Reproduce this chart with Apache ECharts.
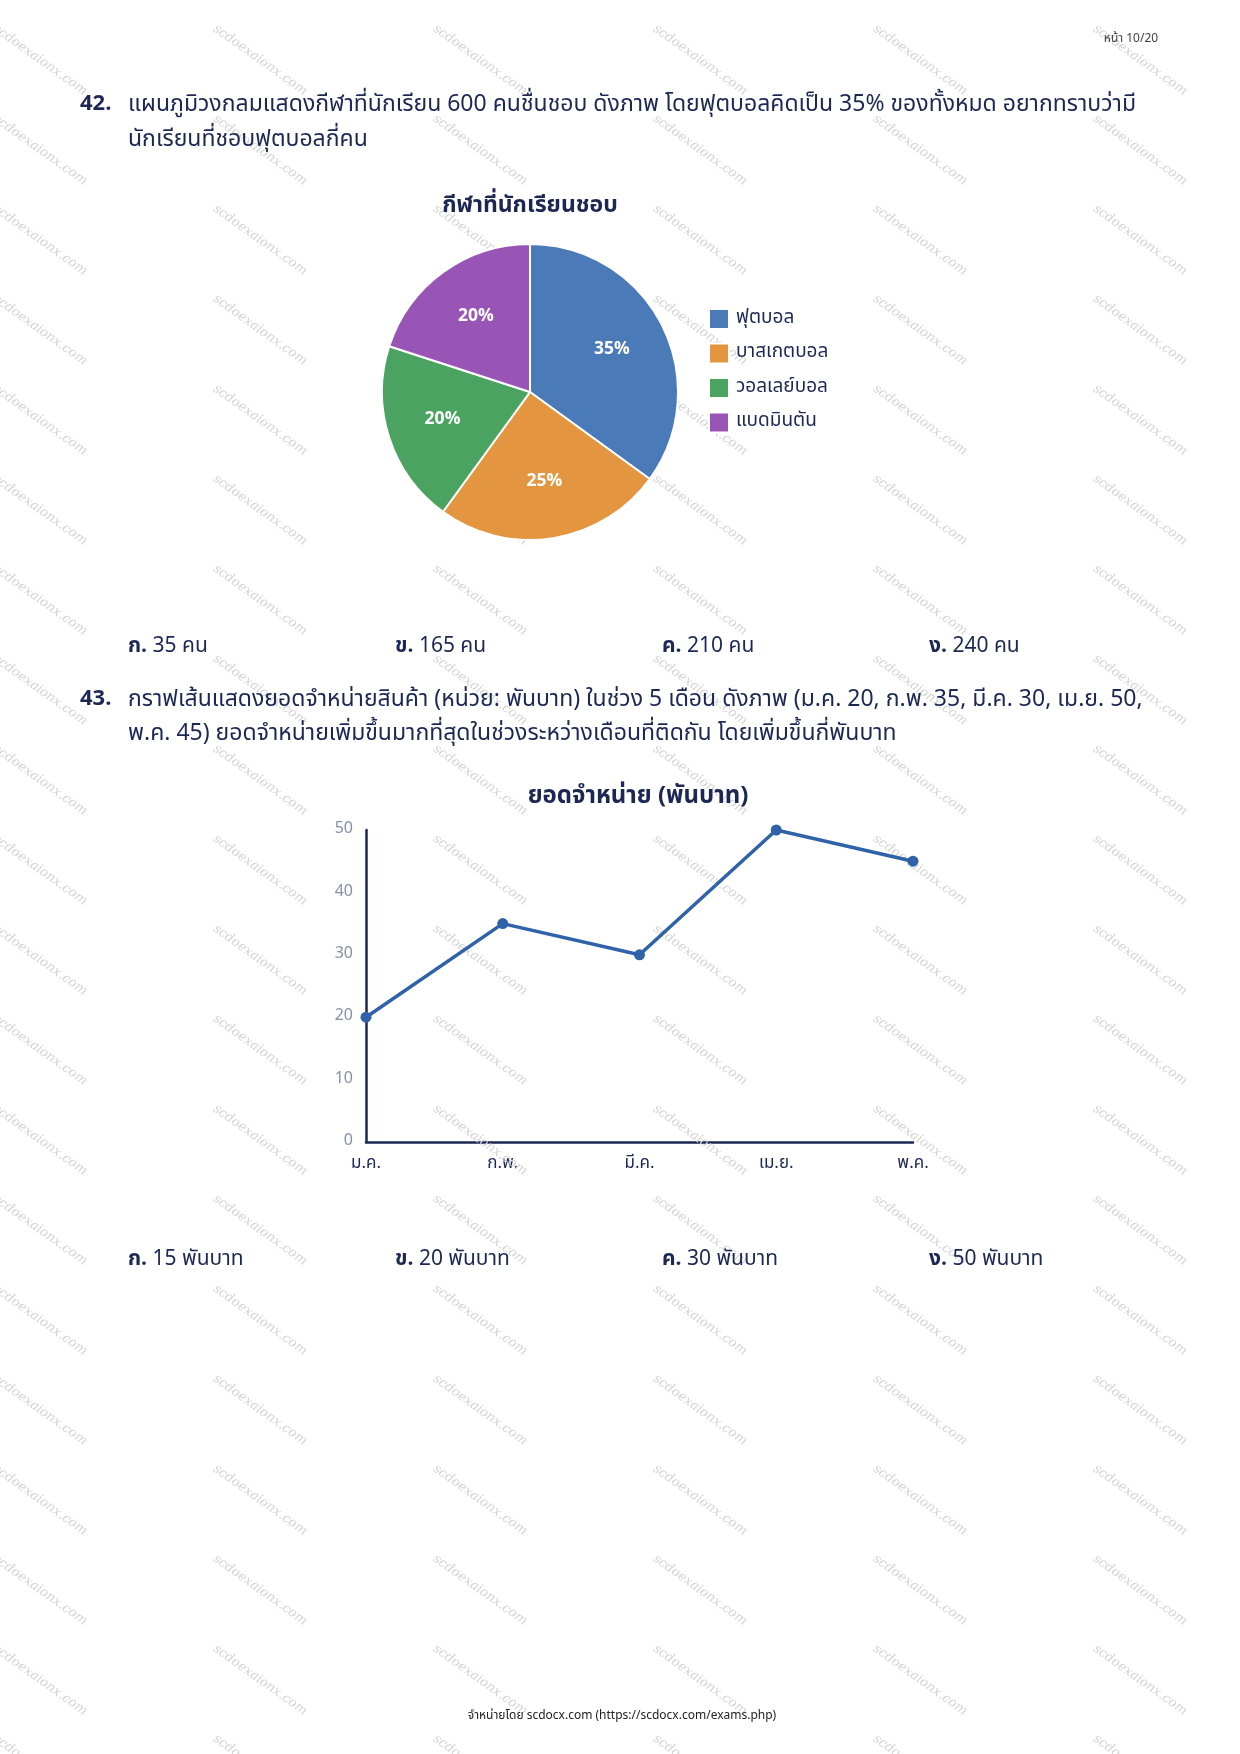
<!DOCTYPE html>
<html>
<head>
<meta charset="utf-8">
<script src="https://cdn.jsdelivr.net/npm/echarts@6/dist/echarts.min.js"></script>
<style>
  html, body { margin: 0; padding: 0; background: #fff; }
  #page { width: 1240px; height: 1754px; }
</style>
</head>
<body>
<div id="page"></div>
<script>
// ข้อมูลแผนภูมิวงกลม
var sports = ['ฟุตบอล', 'บาสเกตบอล', 'วอลเลย์บอล', 'แบดมินตัน'];
var sportShares = [35, 25, 20, 20];
var sportColors = ['#4a7ab8', '#e3963f', '#4aa360', '#9955b5'];

// ข้อมูลกราฟเส้น
var months = ['ม.ค.', 'ก.พ.', 'มี.ค.', 'เม.ย.', 'พ.ค.'];
var sales = [20, 35, 30, 50, 45];

var navy = '#1c2754';
var thai = '"Noto Sans Thai", "Noto Sans", sans-serif';

var myChart = echarts.init(document.getElementById('page'));

function txt(s, x, y, size, weight, color, align) {
    return {
        type: 'text', z: 10,
        style: {
            text: s, x: x, y: y,
            fontSize: size, fontWeight: weight || 'normal',
            fontFamily: thai, fill: color || navy,
            align: align || 'left', verticalAlign: 'middle'
        }
    };
}

function choice(q, x, y) {
    return {
        type: 'text', z: 10,
        style: {
            x: x, y: y, verticalAlign: 'middle',
            text: '{b|' + q[0] + '} ' + q[1],
            fontSize: 21, fontFamily: thai, fill: navy,
            rich: { b: { fontWeight: 'bold', fontSize: 21, fontFamily: thai, fill: navy } }
        }
    };
}

var graphics = [];

// ลายน้ำ
for (var r = 0; r < 20; r++) {
    for (var c = 0; c < 6; c++) {
        graphics.push({
            type: 'text', z: 1,
            x: 40 + c * 220, y: 60 + r * 90,
            rotation: -0.62,
            style: {
                text: 'scdoexaionx.com', x: 0, y: 0,
                fontSize: 13, fontStyle: 'italic', fontFamily: '"DejaVu Serif", serif',
                fill: '#d4d4d4', align: 'center', verticalAlign: 'middle'
            }
        });
    }
}

graphics.push(txt('หน้า 10/20', 1131, 40, 12, 'normal', '#444', 'center'));

graphics.push(txt('42.', 80, 106, 22, 'bold'));
graphics.push(txt('แผนภูมิวงกลมแสดงกีฬาที่นักเรียน 600 คนชื่นชอบ ดังภาพ โดยฟุตบอลคิดเป็น 35% ของทั้งหมด อยากทราบว่ามี', 128, 106, 23));
graphics.push(txt('นักเรียนที่ชอบฟุตบอลกี่คน', 128, 141, 23));

var choiceX = [128, 395, 662, 929];
var q42 = [['ก.', '35 คน'], ['ข.', '165 คน'], ['ค.', '210 คน'], ['ง.', '240 คน']];
var q43 = [['ก.', '15 พันบาท'], ['ข.', '20 พันบาท'], ['ค.', '30 พันบาท'], ['ง.', '50 พันบาท']];
q42.forEach(function (q, i) { graphics.push(choice(q, choiceX[i], 648)); });

graphics.push(txt('43.', 80, 701, 22, 'bold'));
graphics.push(txt('กราฟเส้นแสดงยอดจำหน่ายสินค้า (หน่วย: พันบาท) ในช่วง 5 เดือน ดังภาพ (ม.ค. 20, ก.พ. 35, มี.ค. 30, เม.ย. 50,', 128, 701, 23));
graphics.push(txt('พ.ค. 45) ยอดจำหน่ายเพิ่มขึ้นมากที่สุดในช่วงระหว่างเดือนที่ติดกัน โดยเพิ่มขึ้นกี่พันบาท', 128, 735, 23));

q43.forEach(function (q, i) { graphics.push(choice(q, choiceX[i], 1261)); });

graphics.push(txt('กีฬาที่นักเรียนชอบ', 530, 207, 23, 'bold', navy, 'center'));
graphics.push(txt('ยอดจำหน่าย (พันบาท)', 638, 798, 24, 'bold', navy, 'center'));

graphics.push(txt('จำหน่ายโดย scdocx.com (https://scdocx.com/exams.php)', 622, 1717, 12, 'normal', '#222', 'center'));

var pieData = sports.map(function (s, i) {
    return { name: s, value: sportShares[i], itemStyle: { color: sportColors[i] } };
});

var option = {
    backgroundColor: '#ffffff',
    animation: false,
    legend: {
        orient: 'vertical',
        left: 703, top: 303,
        itemWidth: 20, itemHeight: 20, itemGap: 12.5,
        icon: 'rect',
        data: sports,
        textStyle: { fontSize: 19, lineHeight: 20, color: navy, fontFamily: thai, padding: [0, 0, 0, 2] }
    },
    grid: { left: 366, right: 327, top: 830, bottom: 612 },
    xAxis: {
        type: 'category',
        boundaryGap: false,
        data: months,
        axisLine: { lineStyle: { color: navy, width: 2.5 } },
        axisTick: { show: false },
        axisLabel: { color: navy, fontSize: 17, margin: 14, fontFamily: thai }
    },
    yAxis: {
        type: 'value',
        min: 0, max: 50, interval: 10,
        axisLine: { show: true, lineStyle: { color: navy, width: 2.5 } },
        axisTick: { show: false },
        splitLine: { show: false },
        axisLabel: { color: '#8790a6', fontSize: 16, margin: 13, fontFamily: thai }
    },
    graphic: graphics,
    series: [{
        type: 'pie',
        center: [530, 392],
        radius: 148,
        startAngle: 90,
        clockwise: true,
        itemStyle: { borderColor: '#fff', borderWidth: 2 },
        label: { show: false },
        labelLine: { show: false },
        data: pieData
    }, {
        // ชั้นป้ายกำกับ วางไว้ที่ราว 60% ของรัศมี
        type: 'pie',
        center: [530, 392],
        radius: [30, 148],
        startAngle: 90,
        clockwise: true,
        silent: true,
        legendHoverLink: false,
        itemStyle: { color: 'rgba(0,0,0,0)' },
        label: {
            position: 'inside',
            formatter: '{c}%',
            color: '#fff', fontSize: 17.5, fontWeight: 'bold', fontFamily: thai
        },
        labelLine: { show: false },
        data: sports.map(function (s, i) {
            return { name: s, value: sportShares[i], itemStyle: { color: 'rgba(0,0,0,0)' } };
        })
    }, {
        type: 'line',
        data: sales,
        symbol: 'circle',
        symbolSize: 11,
        lineStyle: { color: '#2f62a8', width: 3.5 },
        itemStyle: { color: '#2f62a8' }
    }]
};

myChart.setOption(option);
</script>
</body>
</html>
